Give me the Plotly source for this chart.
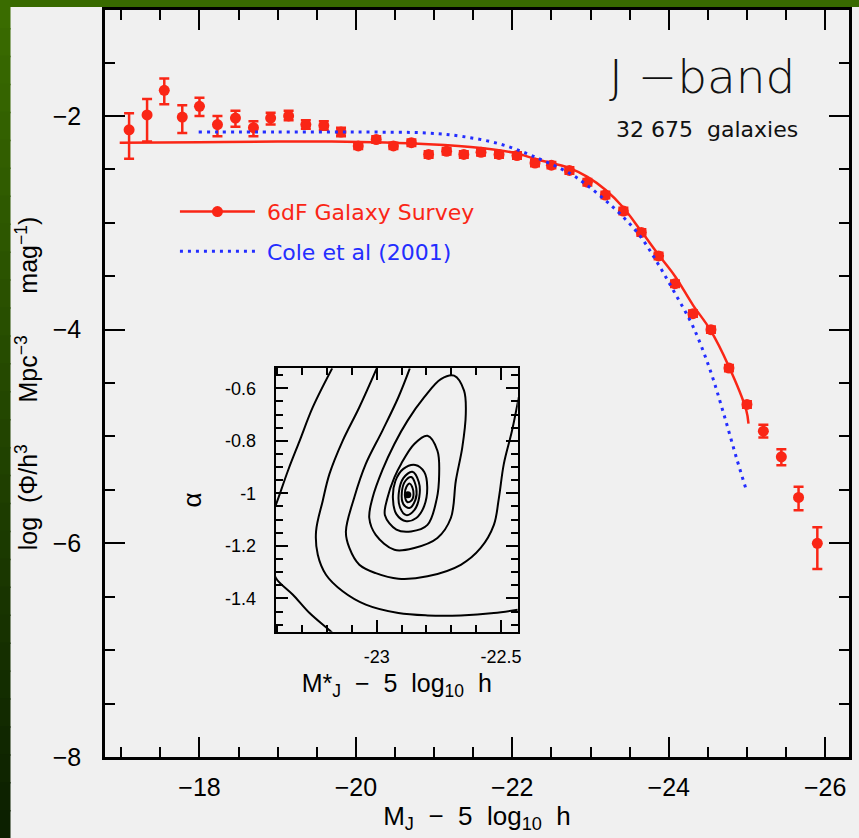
import plotly.graph_objects as go

# ---------------- main panel: 6dF J-band luminosity function ----------------
mag = [-17.10, -17.33, -17.55, -17.78, -18.00, -18.23, -18.46, -18.69, -18.91, -19.14,
       -19.36, -19.59, -19.81, -20.03, -20.26, -20.48, -20.71, -20.93, -21.16, -21.38,
       -21.60, -21.83, -22.06, -22.29, -22.50, -22.73, -22.96, -23.19, -23.42, -23.65,
       -23.87, -24.08, -24.31, -24.54, -24.77, -25.00, -25.21, -25.44, -25.66, -25.90]
logphi = [-2.13, -1.99, -1.76, -2.01, -1.91, -2.08, -2.02, -2.11, -2.02, -2.00,
          -2.08, -2.09, -2.15, -2.28, -2.22, -2.28, -2.25, -2.36, -2.33, -2.36,
          -2.34, -2.36, -2.37, -2.44, -2.46, -2.51, -2.62, -2.74, -2.89, -3.09,
          -3.31, -3.57, -3.85, -4.00, -4.36, -4.70, -4.95, -5.19, -5.57, -6.00]
err_plus = [0.155, 0.15, 0.11, 0.11, 0.08, 0.08, 0.07, 0.06, 0.05, 0.05,
            0.04, 0.04, 0.04, 0.03, 0.03, 0.03, 0.03, 0.03, 0.03, 0.03,
            0.03, 0.03, 0.03, 0.03, 0.03, 0.03, 0.03, 0.03, 0.03, 0.03,
            0.03, 0.03, 0.03, 0.03, 0.03, 0.03, 0.06, 0.07, 0.10, 0.15]
err_minus = [0.27, 0.25, 0.13, 0.15, 0.09, 0.11, 0.08, 0.08, 0.06, 0.04,
             0.04, 0.04, 0.04, 0.03, 0.03, 0.03, 0.03, 0.03, 0.03, 0.03,
             0.03, 0.03, 0.03, 0.03, 0.03, 0.03, 0.03, 0.03, 0.03, 0.03,
             0.03, 0.03, 0.03, 0.03, 0.03, 0.03, 0.06, 0.08, 0.12, 0.24]

# Schechter fit to 6dF
fit_mag = [-16.98, -18.0, -19.0, -19.69, -20.93, -21.60, -22.06, -22.28, -22.74, -22.96,
           -23.19, -23.41, -23.64, -23.86, -24.08, -24.31, -24.53, -24.76, -24.99, -25.02]
fit_logphi = [-2.25, -2.245, -2.24, -2.24, -2.265, -2.30, -2.35, -2.40, -2.49, -2.57,
              -2.69, -2.85, -3.07, -3.29, -3.50, -3.77, -4.00, -4.33, -4.75, -4.88]

# Cole et al (2001)
cole_mag = [-17.99, -19.0, -20.0, -20.93, -21.35, -21.83, -22.28, -22.74, -22.96, -23.19,
            -23.41, -23.64, -23.86, -24.08, -24.31, -24.53, -24.70, -24.87, -25.00]
cole_logphi = [-2.15, -2.15, -2.15, -2.16, -2.19, -2.26, -2.38, -2.54, -2.65, -2.79,
               -2.94, -3.13, -3.38, -3.66, -3.97, -4.38, -4.78, -5.21, -5.52]

# ---------------- inset: likelihood contours in (M*, alpha) ----------------
cH_x = [-23.179, -23.257, -23.310, -23.357, -23.40, -23.42]
cH_y = [-0.524, -0.672, -0.800, -0.914, -1.03, -1.08]
cI_x = [-23.42, -23.405, -23.337, -23.270, -23.197, -23.173]
cI_y = [-1.27, -1.323, -1.386, -1.456, -1.516, -1.536]
cG_x = [-23.0, -23.070, -23.137, -23.190, -23.217, -23.244, -23.237, -23.204, -23.137,
        -23.044, -22.913, -22.796, -22.662, -22.529, -22.433]
cG_y = [-0.524, -0.672, -0.800, -0.926, -1.028, -1.145, -1.234, -1.310, -1.373,
        -1.424, -1.456, -1.465, -1.465, -1.456, -1.443]
cF_x = [-22.867, -22.913, -22.977, -23.044, -23.090, -23.124, -23.110, -23.070, -23.004,
        -22.913, -22.796, -22.662, -22.582, -22.529, -22.509, -22.489, -22.456, -22.429]
cF_y = [-0.524, -0.634, -0.761, -0.888, -1.015, -1.145, -1.208, -1.272, -1.304,
        -1.325, -1.316, -1.272, -1.208, -1.120, -1.018, -0.888, -0.761, -0.634]
cE_x = [-22.689, -22.649, -22.642, -22.656, -22.682, -22.702, -22.756, -22.849, -22.929,
        -23.004, -23.030, -23.017, -22.977, -22.929, -22.876, -22.809, -22.742, -22.689]
cE_y = [-0.552, -0.609, -0.698, -0.825, -0.952, -1.094, -1.170, -1.208, -1.215,
        -1.158, -1.094, -1.018, -0.911, -0.812, -0.723, -0.634, -0.565, -0.552]
cD_x = [-22.796, -22.756, -22.749, -22.759, -22.796, -22.862, -22.921, -22.967, -22.957,
        -22.929, -22.902, -22.849, -22.796]
cD_y = [-0.781, -0.838, -0.926, -1.022, -1.120, -1.145, -1.138, -1.083, -1.018,
        -0.939, -0.888, -0.812, -0.781]
cC_x = [-22.845, -22.809, -22.797, -22.809, -22.841, -22.881, -22.921, -22.935, -22.925,
        -22.893, -22.845]
cC_y = [-0.892, -0.919, -0.976, -1.048, -1.094, -1.106, -1.079, -1.018, -0.953,
        -0.907, -0.892]
cB_x = [-22.857, -22.831, -22.829, -22.849, -22.881, -22.907, -22.911, -22.893, -22.857]
cB_y = [-0.918, -0.957, -1.014, -1.064, -1.083, -1.052, -0.995, -0.942, -0.918]
cA_x = [-22.861, -22.841, -22.845, -22.869, -22.893, -22.899, -22.885, -22.861]
cA_y = [-0.938, -0.980, -1.026, -1.056, -1.041, -0.995, -0.953, -0.938]
cA2_x = [-22.867, -22.853, -22.859, -22.877, -22.887, -22.881, -22.867]
cA2_y = [-0.963, -0.991, -1.026, -1.033, -1.006, -0.976, -0.963]
best_x = [-22.875]
best_y = [-1.005]

RED = "rgb(250,38,22)"
BLUE = "rgb(35,45,255)"
FONT = "Liberation Sans, Arial, sans-serif"
WIDEFONT = "DejaVu Sans, sans-serif"
NB = "\u00a0"

fig = go.Figure()

# fit line
fig.add_trace(go.Scatter(x=fit_mag, y=fit_logphi, mode="lines", line=dict(color=RED, width=2.5, shape="spline"),
                         showlegend=False, hoverinfo="skip"))
# data points
fig.add_trace(go.Scatter(x=mag, y=logphi, mode="markers",
                         marker=dict(color=RED, size=11),
                         error_y=dict(type="data", symmetric=False, array=err_plus, arrayminus=err_minus,
                                      color=RED, thickness=2.5, width=5),
                         showlegend=False))
# legend proxy for 6dF
fig.add_trace(go.Scatter(x=[None], y=[None], mode="lines+markers", legendgroup="a",
                         line=dict(color=RED, width=2.5), marker=dict(color=RED, size=11),
                         name=NB * 1 + '<span style="color:rgb(250,38,22)">6dF Galaxy Survey</span>'))
# Cole et al
fig.add_trace(go.Scatter(x=cole_mag, y=cole_logphi, mode="lines", legendgroup="b",
                         line=dict(color=BLUE, width=3, dash="3px,5px", shape="spline"),
                         name=NB * 1 + '<span style="color:rgb(35,45,255)">Cole et al (2001)</span>'))

# inset contours
for cx, cy in [(cH_x, cH_y), (cI_x, cI_y), (cG_x, cG_y), (cF_x, cF_y), (cE_x, cE_y),
               (cD_x, cD_y), (cC_x, cC_y), (cB_x, cB_y), (cA_x, cA_y), (cA2_x, cA2_y)]:
    fig.add_trace(go.Scatter(x=cx, y=cy, xaxis="x2", yaxis="y2", mode="lines",
                             line=dict(color="black", width=2, shape="spline", smoothing=1.0),
                             showlegend=False, hoverinfo="skip"))
fig.add_trace(go.Scatter(x=best_x, y=best_y, xaxis="x2", yaxis="y2", mode="markers",
                         marker=dict(color="black", size=7), showlegend=False))

axis_common = dict(showline=True, linecolor="black", mirror="ticks", ticks="inside",
                   tickcolor="black", showgrid=False, zeroline=False)

fig.update_layout(
    width=859, height=838,
    margin=dict(l=105, r=6, t=10, b=81),
    paper_bgcolor="#f0f0f0", plot_bgcolor="#f0f0f0",
    font=dict(family=FONT, color="black"),
    xaxis=dict(domain=[0, 1], range=[-16.792, -26.305], tickmode="linear", tick0=0, dtick=2,
               ticklen=20, tickwidth=2, linewidth=2.5,
               minor=dict(dtick=0.5, tick0=0, ticks="inside", ticklen=10, tickwidth=2, tickcolor="black"),
               tickfont=dict(size=25, family=FONT), ticklabelstandoff=6,
               title=dict(text="M<sub>J</sub>" + NB * 2 + "−" + NB * 2 + "5" + NB * 2 + "log<sub>10</sub>" + NB * 2 + "h",
                          font=dict(size=26), standoff=4),
               **axis_common),
    yaxis=dict(domain=[0, 1], range=[-8, -1.008], tickmode="linear", tick0=0, dtick=2,
               ticklen=20, tickwidth=2, linewidth=2.5,
               minor=dict(dtick=0.5, tick0=0, ticks="inside", ticklen=10, tickwidth=2, tickcolor="black"),
               tickfont=dict(size=25, family=FONT), ticklabelstandoff=16,
               title=dict(text="log" + NB * 2 + "(Φ/h<sup>3</sup>" + NB * 6 + "Mpc<sup>−3</sup>" + NB * 6 + "mag<sup>−1</sup>)",
                          font=dict(size=25), standoff=8),
               **axis_common),
    xaxis2=dict(domain=[0.2295, 0.5548], anchor="y2", range=[-23.406, -22.433],
                tickmode="array", tickvals=[-23, -22.5], ticktext=["-23", "-22.5"],
                ticklen=12, tickwidth=1.5, linewidth=2,
                minor=dict(tickmode="linear", tick0=-23, dtick=0.1, ticks="inside", ticklen=7, tickwidth=1.5, tickcolor="black"),
                tickfont=dict(size=18, family=FONT), ticklabelstandoff=8,
                title=dict(text="M*<sub>J</sub>" + NB * 2 + "−" + NB * 2 + "5" + NB * 2 + "log<sub>10</sub>" + NB * 2 + "h",
                           font=dict(size=25), standoff=8),
                **axis_common),
    yaxis2=dict(domain=[0.1677, 0.5203], anchor="x2", range=[-1.527, -0.524],
                tickmode="array", tickvals=[-1.4, -1.2, -1.0, -0.8, -0.6],
                ticktext=["-1.4", "-1.2", "-1", "-0.8", "-0.6"],
                ticklen=12, tickwidth=1.5, linewidth=2,
                minor=dict(tickmode="linear", tick0=-1, dtick=0.05, ticks="inside", ticklen=7, tickwidth=1.5, tickcolor="black"),
                tickfont=dict(size=18, family=FONT), ticklabelstandoff=14,
                title=dict(text="α", font=dict(size=26), standoff=16),
                **axis_common),
    legend=dict(x=0.094, y=0.758, xanchor="left", yanchor="top", bgcolor="rgba(0,0,0,0)",
                font=dict(size=22, family=WIDEFONT), itemwidth=75, tracegroupgap=8),
    showlegend=True,
)

# annotations
fig.add_annotation(text="J" + NB + "−band", xref="paper", yref="paper", x=0.803, y=0.9116,
                   xanchor="center", yanchor="middle", showarrow=False,
                   font=dict(size=47, family=WIDEFONT, weight=200, color="#111"))
fig.add_annotation(text="32 675" + NB * 2 + "galaxies", xref="paper", yref="paper", x=0.809, y=0.8394,
                   xanchor="center", yanchor="middle", showarrow=False,
                   font=dict(size=22, family=WIDEFONT, color="#111"))

# slide background (green frame on top and left)
shapes = [dict(type="rect", xref="paper", yref="paper", x0=-0.3, x1=1.2, y0=1.004, y1=1.2,
               fillcolor="rgb(56,106,0)", line=dict(width=0), layer="below")]
n = 30
y_top, y_bot = 1.0134, -0.1084
for i in range(n):
    t = i / (n - 1)
    r = int(58 + (12 - 58) * t); g = int(108 + (32 - 108) * t)
    y1 = y_top - (y_top - y_bot) * i / n
    y0 = y_top - (y_top - y_bot) * (i + 1) / n
    shapes.append(dict(type="rect", xref="paper", yref="paper", x0=-0.3, x1=-0.127, y0=y0 - 0.002, y1=y1,
                       fillcolor=f"rgb({r},{g},0)", line=dict(width=0), layer="below"))
fig.update_layout(shapes=shapes)

fig.write_html("out.html")
